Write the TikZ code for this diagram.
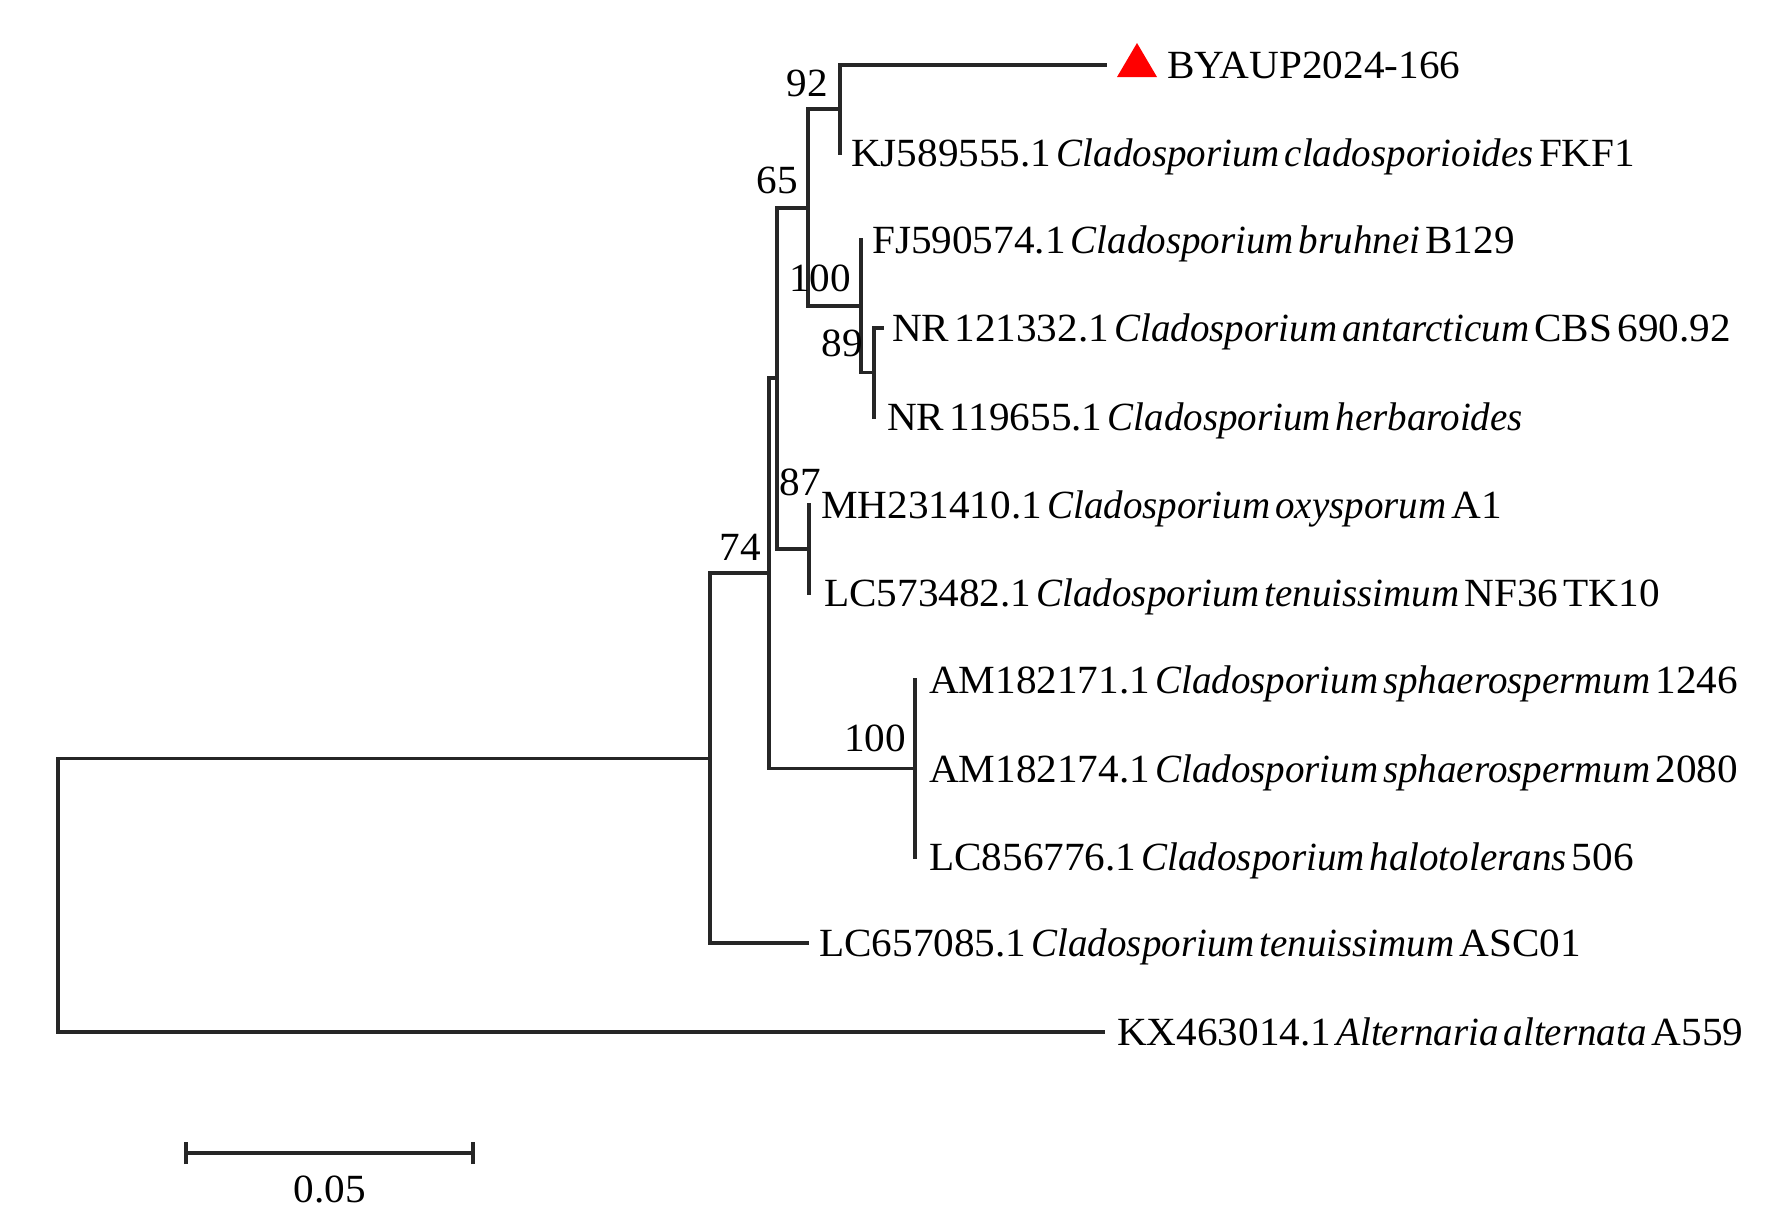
\documentclass[tikz,border=0pt]{standalone}
\usepackage{fontspec}
\setmainfont{Liberation Serif}[WordSpace=0.5, UprightFeatures={FakeStretch=1.03}, ItalicFeatures={FakeStretch=0.975}]
\begin{document}
\begin{tikzpicture}[x=1pt,y=-1pt,
  branch/.style={draw=black!85, line width=3.2pt, line cap=rect},
  leaf/.style={anchor=west, inner sep=0pt, text height=27pt, text depth=0pt, font=\fontsize{40}{48}\selectfont},
  boot/.style={anchor=center, inner sep=0pt, text height=27pt, text depth=0pt, font=\fontsize{40}{48}\selectfont},
  scaletxt/.style={anchor=center, inner sep=0pt, text height=28pt, text depth=0pt, font=\fontsize{40}{48}\selectfont}]
\useasboundingbox[fill=white] (0,0) rectangle (1787,1227);
% internal nodes
\coordinate (R) at (58,895.5);
\coordinate (N74) at (710,758.5);
\coordinate (Na) at (769,573);
\coordinate (Nb) at (777,378);
\coordinate (N65) at (808,208);
\coordinate (N92) at (840,109);
\coordinate (N100f) at (861,306);
\coordinate (N89) at (874,372.5);
\coordinate (N87) at (809,549);
\coordinate (N100s) at (915,768.5);
% tips
\coordinate (tBY) at (1105,65);
\coordinate (tKJ) at (840,153);
\coordinate (tFJ) at (861,240);
\coordinate (tNRa) at (882,328);
\coordinate (tNRb) at (874,417);
\coordinate (tMH) at (809,505);
\coordinate (tLC57) at (809,593);
\coordinate (tAM1) at (915,680);
\coordinate (tAM2) at (915,768.5);
\coordinate (tLC85) at (915,857);
\coordinate (tLC65) at (807,943);
\coordinate (tKX) at (1103,1032);
% branches
\draw[branch] (R) |- (N74);
\draw[branch] (R) |- (tKX);
\draw[branch] (N74) |- (Na);
\draw[branch] (N74) |- (tLC65);
\draw[branch] (Na) |- (Nb);
\draw[branch] (Na) |- (N100s);
\draw[branch] (Nb) |- (N65);
\draw[branch] (Nb) |- (N87);
\draw[branch] (N65) |- (N92);
\draw[branch] (N65) |- (N100f);
\draw[branch] (N92) |- (tBY);
\draw[branch] (N92) |- (tKJ);
\draw[branch] (N100f) |- (tFJ);
\draw[branch] (N100f) |- (N89);
\draw[branch] (N89) |- (tNRa);
\draw[branch] (N89) |- (tNRb);
\draw[branch] (N87) |- (tMH);
\draw[branch] (N87) |- (tLC57);
\draw[branch] (N100s) |- (tAM1);
\draw[branch] (N100s) |- (tAM2);
\draw[branch] (N100s) |- (tLC85);
% marker
\fill[red] (1117,77) -- (1157,77) -- (1137,43) -- cycle;
% leaf labels
\node[leaf] (lBY) at (1167,65) {BYAUP2024-166};
\node[leaf] (lKJ) at (851,153) {KJ589555.1 \textit{Cladosporium cladosporioides} FKF1};
\node[leaf] (lFJ) at (872,240) {FJ590574.1 \textit{Cladosporium bruhnei} B129};
\node[leaf] (lNRa) at (892,328) {NR 121332.1 \textit{Cladosporium antarcticum} CBS 690.92};
\node[leaf] (lNRb) at (887,417) {NR 119655.1 \textit{Cladosporium herbaroides}};
\node[leaf] (lMH) at (821,505) {MH231410.1 \textit{Cladosporium oxysporum} A1};
\node[leaf] (lLC57) at (824,593) {LC573482.1 \textit{Cladosporium tenuissimum} NF36 TK10};
\node[leaf] (lAM1) at (929,680) {AM182171.1 \textit{Cladosporium sphaerospermum} 1246};
\node[leaf] (lAM2) at (929,768.5) {AM182174.1 \textit{Cladosporium sphaerospermum} 2080};
\node[leaf] (lLC85) at (929,857) {LC856776.1 \textit{Cladosporium halotolerans} 506};
\node[leaf] (lLC65) at (819,943) {LC657085.1 \textit{Cladosporium tenuissimum} ASC01};
\node[leaf] (lKX) at (1117,1032) {KX463014.1 \textit{Alternaria alternata} A559};
% bootstrap values
\node[boot] (b92) at (807,83) {92};
\node[boot] (b65) at (777,180) {65};
\node[boot] (b100f) at (820,278) {100};
\node[boot] (b89) at (842,343) {89};
\node[boot] (b87) at (800,482) {87};
\node[boot] (b74) at (740,547) {74};
\node[boot] (b100s) at (875,738) {100};
% scale bar
\coordinate (sL) at (186,1153);
\coordinate (sR) at (473,1153);
\draw[branch, line cap=butt] (sL) -- (sR);
\draw[branch, line cap=butt] ([yshift=-11pt]sL) -- ([yshift=11pt]sL);
\draw[branch, line cap=butt] ([yshift=-11pt]sR) -- ([yshift=11pt]sR);
\node[scaletxt] (sT) at (330,1188) {0.05};
\end{tikzpicture}
\end{document}
